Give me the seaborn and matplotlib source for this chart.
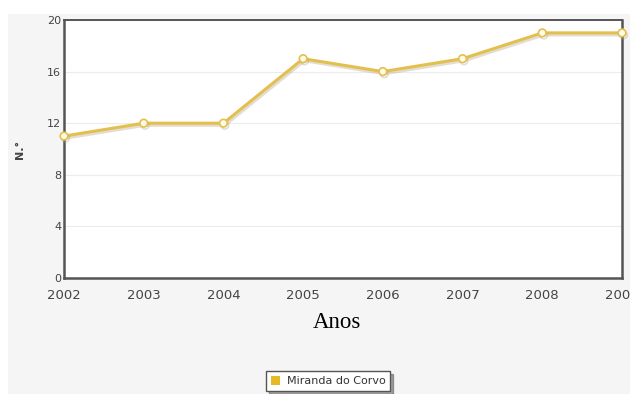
import matplotlib
matplotlib.use("Agg")
import matplotlib.pyplot as plt
import matplotlib.patheffects as pe
from matplotlib.patches import Rectangle
import seaborn as sns
import pandas as pd

years = [2002, 2003, 2004, 2005, 2006, 2007, 2008, 2009]
values = [11, 12, 12, 17, 16, 17, 19, 19]
series_name = "Miranda do Corvo"
y_ticks = [0, 4, 8, 12, 16, 20]

df = pd.DataFrame({"Ano": years, "N": values})

sns.set_theme(style="white")
plt.rcParams["font.family"] = ["DejaVu Sans"]

fig = plt.figure(figsize=(6.3, 3.94), dpi=100, facecolor="white")
# grey chart panel behind the axes
fig.patches.append(Rectangle((8 / 630, 0), 1, 1 - 14 / 394, transform=fig.transFigure,
                             facecolor="#f5f5f5", edgecolor="none", zorder=-10))

ax = fig.add_axes([64 / 630, 1 - 278 / 394, (622 - 64) / 630, (278 - 20) / 394])
ax.set_facecolor("white")

line_color = "#e3c04e"
sns.lineplot(data=df, x="Ano", y="N", ax=ax, color=line_color, linewidth=2.2,
             marker="o", markersize=5.5, markerfacecolor="#fffbe8",
             markeredgecolor=line_color, markeredgewidth=1.2, clip_on=False, zorder=5,
             path_effects=[pe.SimpleLineShadow(offset=(1, -1.5), shadow_color="#b0a080", alpha=0.35),
                           pe.Normal()])

ax.set_xlim(2002, 2009)
ax.set_ylim(0, 20)
ax.set_yticks(y_ticks)
ax.set_yticklabels([str(t) for t in y_ticks], fontsize=8, color="#444444")
ax.set_xticks(years)
ax.set_xticklabels([str(y) for y in years], fontsize=9.5, color="#444444")
ax.tick_params(axis="both", length=0, pad=2)
ax.tick_params(axis="x", pad=8)
ax.grid(axis="y", color="#ececec", linewidth=0.8)
ax.grid(axis="x", visible=False)

for side in ["left", "bottom", "right", "top"]:
    ax.spines[side].set_visible(True)
    ax.spines[side].set_color("#555555")
    ax.spines[side].set_linewidth(1.8)
ax.spines["top"].set_linewidth(1.4)

ax.set_xlabel("")
ax.set_ylabel("N.°", fontsize=8, fontweight="bold", color="#444444", labelpad=16)
fig.text(337 / 630, 1 - 322 / 394, "Anos", ha="center", va="center",
         fontsize=16.5, family=["Liberation Serif", "DejaVu Serif"], color="black")

# legend
handle = Rectangle((0, 0), 1, 1, facecolor="#e8b923", edgecolor="none")
leg = fig.legend([handle], [series_name], loc="upper left",
                 bbox_to_anchor=(266 / 630, 1 - 371 / 394), fontsize=8,
                 frameon=True, fancybox=False, shadow=True,
                 handlelength=0.8, handleheight=0.8, handletextpad=0.6,
                 borderpad=0.45, borderaxespad=0)
leg.get_frame().set_edgecolor("#555555")
leg.get_frame().set_linewidth(1.0)
leg.get_frame().set_facecolor("white")
for t in leg.get_texts():
    t.set_color("#333333")

fig.savefig("out.png", dpi=100, facecolor=fig.get_facecolor())
